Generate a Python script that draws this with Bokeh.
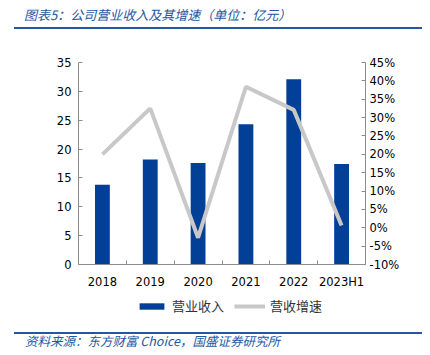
from bokeh.plotting import figure
from bokeh.layouts import column
from bokeh.models import (Range1d, LinearAxis, FixedTicker, PrintfTickFormatter,
                          Legend, LegendItem, Div)
from bokeh.embed import file_html
from bokeh.resources import INLINE

categories = ["2018", "2019", "2020", "2021", "2022", "2023H1"]
revenue = [13.8, 18.2, 17.6, 24.3, 32.1, 17.4]          # 亿元
growth = [20.0, 32.5, -2.7, 38.4, 32.1, 0.6]            # %
left_ticks = [0, 5, 10, 15, 20, 25, 30, 35]
right_ticks = [-10, -5, 0, 5, 10, 15, 20, 25, 30, 35, 40, 45]
series_names = ["营业收入", "营收增速"]
title_text = "图表5：公司营业收入及其增速（单位：亿元）"
source_text = "资料来源：东方财富 Choice，国盛证券研究所"

BAR = "#023F96"
LINE = "#C8C8C8"
BLUE = "#2356A3"
AX = "#8C8C8C"
FONT = "DejaVu Sans"
CJK = "Noto Sans CJK SC"
W = 422

n = len(categories)
xs = [i + 0.5 for i in range(n)]

# ---- title block
title_div = Div(width=W, height=30, margin=0, text=(
    f'<div style="position:relative;width:{W}px;height:30px;">'
    f'<div style="position:absolute;left:24px;top:5px;font-family:\'{CJK}\';'
    f'font-size:13px;font-style:italic;color:{BLUE};line-height:19px;'
    f'white-space:nowrap;">{title_text}</div>'
    f'<div style="position:absolute;left:14px;top:27px;width:408px;height:2px;'
    f'background:{BLUE};"></div></div>'))

# ---- main chart
p = figure(width=W, height=262, output_backend="svg", toolbar_location=None,
           x_range=Range1d(0, n), y_range=Range1d(0, 35),
           min_border_left=78, min_border_right=57, min_border_top=32,
           min_border_bottom=28, margin=0)
p.outline_line_color = None
p.xgrid.visible = False
p.ygrid.visible = False
p.extra_y_ranges = {"pct": Range1d(-10, 45)}

p.vbar(x=xs, top=revenue, width=0.31, color=BAR, line_color=None)
p.line(x=xs, y=growth, y_range_name="pct", line_color=LINE, line_width=4)

ya = p.yaxis[0]
ya.ticker = FixedTicker(ticks=left_ticks, minor_ticks=[])

ra = LinearAxis(y_range_name="pct",
                ticker=FixedTicker(ticks=right_ticks, minor_ticks=[]),
                formatter=PrintfTickFormatter(format="%d%%"))
p.add_layout(ra, "right")

xa = p.xaxis[0]
xa.ticker = FixedTicker(ticks=xs, minor_ticks=list(range(n + 1)))
xa.major_label_overrides = {x: c for x, c in zip(xs, categories)}

for ax in [ya, ra, xa]:
    ax.axis_line_color = AX
    ax.axis_line_width = 1
    ax.major_tick_line_color = AX
    ax.minor_tick_line_color = AX
    ax.major_tick_in = 4
    ax.major_tick_out = 0
    ax.minor_tick_in = 0
    ax.minor_tick_out = 0
    ax.major_label_text_font = FONT
    ax.major_label_text_font_size = "11.5px"
    ax.major_label_text_color = "#000000"
    ax.major_label_standoff = 7
xa.major_tick_in = 0
xa.minor_tick_in = 4
xa.major_label_standoff = 10
ra.major_label_standoff = 4

# ---- legend strip: style-only proxy renderers (no drawn points)
lg = figure(width=W, height=29, output_backend="svg", toolbar_location=None,
            x_range=Range1d(0, n), y_range=Range1d(0, 1),
            min_border=0, margin=0)
lg.axis.visible = False
lg.grid.visible = False
lg.outline_line_color = None
nan = float("nan")
r1 = lg.vbar(x=[nan], top=[nan], width=0.31, color=BAR, line_color=None)
r2 = lg.line(x=[nan], y=[nan], line_color=LINE, line_width=4)
legend = Legend(items=[LegendItem(label=series_names[0], renderers=[r1]),
                       LegendItem(label=series_names[1], renderers=[r2])],
                orientation="horizontal", location=(58, 6),
                label_text_font=CJK, label_text_font_size="13px",
                label_text_color="#333333",
                glyph_width=31, glyph_height=8, spacing=10,
                label_standoff=5, border_line_color=None,
                background_fill_alpha=0, margin=0, padding=0)
lg.add_layout(legend, "center")

# ---- source block
src_div = Div(width=W, height=26, margin=0, text=(
    f'<div style="position:relative;width:{W}px;height:26px;">'
    f'<div style="position:absolute;left:14px;top:11px;width:408px;height:2px;'
    f'background:{BLUE};"></div>'
    f'<div style="position:absolute;left:25px;top:12px;font-family:\'{CJK}\';'
    f'font-size:12.5px;font-style:italic;color:{BLUE};line-height:16px;'
    f'white-space:nowrap;">{source_text}</div></div>'))

layout = column(title_div, p, lg, src_div, spacing=0, margin=0)

open("out.html", "w").write(file_html(layout, INLINE))
